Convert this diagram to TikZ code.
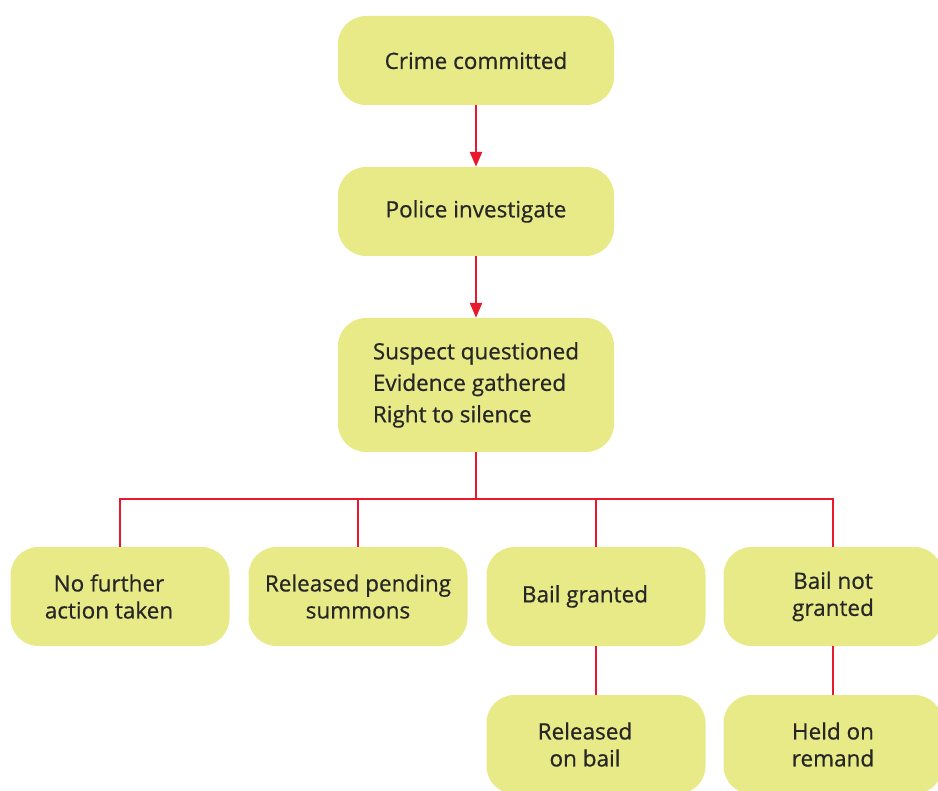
\documentclass[tikz,border=0pt]{standalone}
\usepackage{fontspec}
\setmainfont{Open Sans}
\newfontfamily\medfont{Open Sans}[FakeBold=0.6]
\usetikzlibrary{arrows.meta}
\definecolor{boxfill}{HTML}{E8EA88}
\definecolor{linered}{HTML}{E8192C}
\tikzset{
  box/.style={draw=none, fill=boxfill, rounded corners=28pt, minimum width=276pt, minimum height=89pt, inner sep=0pt, align=center, font=\medfont\fontsize{22.5}{27}\selectfont, text=black!85},
  smallbox/.style={box, minimum width=219pt, minimum height=99pt},
  conn/.style={draw=linered, line width=2.5pt},
  arr/.style={conn, -{Triangle[length=15pt,width=12pt]}}
}
\begin{document}
\begin{tikzpicture}[x=1pt,y=-1pt]
\useasboundingbox (0,0) rectangle (938,791);
\node[box] (crime) at (476,60.5) {Crime committed};
\node[box] (police) at (476,211.5) {Police investigate};
\node[box, minimum height=134pt, align=left, font=\medfont\fontsize{22.5}{31.5}\selectfont] (suspect) at (476,385) {Suspect questioned\\Evidence gathered\\Right to silence};
\node[smallbox] (nfa) at (120,596.5) {No further\hspace*{22pt}\\action taken\hspace*{22pt}};
\node[smallbox] (rps) at (358,596.5) {Released pending\\summons};
\node[smallbox] (bg) at (596,596.5) {Bail granted\hspace*{22pt}};
\node[smallbox] (bng) at (833,596.5) {Bail not\\granted};
\node[smallbox] (rob) at (596,744.5) {Released\hspace*{22pt}\\on bail\hspace*{22pt}};
\node[smallbox] (hor) at (833,744.5) {Held on\\remand};
\coordinate (split) at (476,499);
\draw[arr] (crime) -- (police);
\draw[arr] (police) -- (suspect);
\draw[conn] (suspect.south) -- (split);
\draw[conn] (nfa.north) |- (split) -| (bng.north);
\draw[conn] (rps.north) -- (rps.north |- split);
\draw[conn] (bg.north) -- (bg.north |- split);
\draw[conn] (bg) -- (rob);
\draw[conn] (bng) -- (hor);
\end{tikzpicture}
\end{document}
